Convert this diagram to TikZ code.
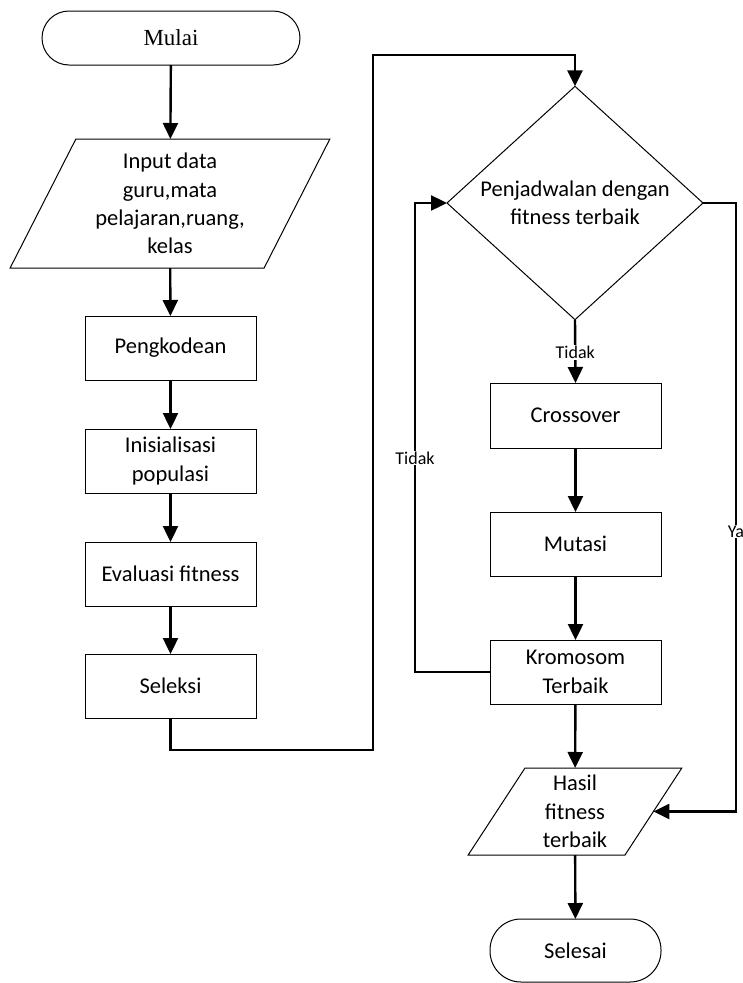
\documentclass[tikz,border=0pt]{standalone}
\usepackage{fontspec}
\setmainfont{Carlito}
\newfontfamily\serifface{Liberation Serif}
\usetikzlibrary{arrows.meta,shapes.geometric}
\begin{document}
\begin{tikzpicture}[x=1pt,y=-1pt,
  every node/.style={font=\fontsize{22.5}{28.3}\selectfont, align=center, inner sep=0pt, outer sep=0pt},
  procbox/.style={draw, line width=1pt, minimum width=171pt, minimum height=64pt},
  termbox/.style={draw, line width=1pt, rounded corners=27pt, minimum width=171pt, minimum height=54pt},
  iobox/.style={draw, line width=1pt, trapezium, trapezium stretches=true, trapezium left angle=#1, trapezium right angle={180-#1}},
  decbox/.style={draw, line width=1pt, diamond, minimum width=256pt, minimum height=232pt},
  arr/.style={line width=2.4pt, -{Triangle[length=16pt,width=15pt]}},
  lbl/.style={fill=white, font=\fontsize{18}{21}\selectfont, inner sep=1pt}]
\useasboundingbox (0,0) rectangle (743,983);
% left column
\node[termbox, minimum width=258pt, font=\serifface\fontsize{23}{27}\selectfont] (mulai) at (171,38) {Mulai};
\node[iobox=62.6, minimum width=320pt, minimum height=129pt] (input) at (170,203.5) {Input data\\guru,mata\\pelajaran,ruang,\\kelas};
\node[procbox] (kode) at (170.5,348) {Pengkodean};
\node[procbox] (init) at (170.5,461) {Inisialisasi\\populasi};
\node[procbox] (eval) at (170.5,574) {Evaluasi fitness};
\node[procbox] (sel) at (170.5,686) {Seleksi};
% right column
\node[decbox] (dec) at (575,203) {Penjadwalan dengan\\fitness terbaik};
\node[procbox, minimum height=65pt] (cross) at (575.5,415.5) {Crossover};
\node[procbox] (mut) at (575.5,544) {Mutasi};
\node[procbox] (krom) at (575.5,672) {Kromosom\\Terbaik};
\node[iobox=63.2, minimum width=214pt, minimum height=87pt] (hasil) at (575,811.5) {Hasil\\fitness\\terbaik};
\node[termbox, minimum height=63pt, rounded corners=31pt] (selesai) at (575.5,950.5) {Selesai};
% helper coordinates
\coordinate (c1) at (373,750);
\coordinate (c2) at (373,55);
\coordinate (c3) at (415,672);
\coordinate (c4) at (736,203);
% connectors
\draw[arr] (mulai) -- (input);
\draw[arr] (input) -- (kode);
\draw[arr] (kode) -- (init);
\draw[arr] (init) -- (eval);
\draw[arr] (eval) -- (sel);
\draw[arr] (sel.south) |- (c1) -- (c2) -| (dec.north);
\draw[arr] (dec.south) -- node[lbl, pos=0.52] {Tidak} (cross.north);
\draw[arr] (cross) -- (mut);
\draw[arr] (mut) -- (krom);
\draw[arr] (krom) -- (hasil);
\draw[arr] (hasil) -- (selesai);
\draw[arr] (krom.west) -- (c3) |- node[lbl, pos=0.228] {Tidak} (dec.west);
\draw[arr] (dec.east) -- (c4) |- node[lbl, pos=0.27] {Ya} (hasil.east);
\end{tikzpicture}
\end{document}
